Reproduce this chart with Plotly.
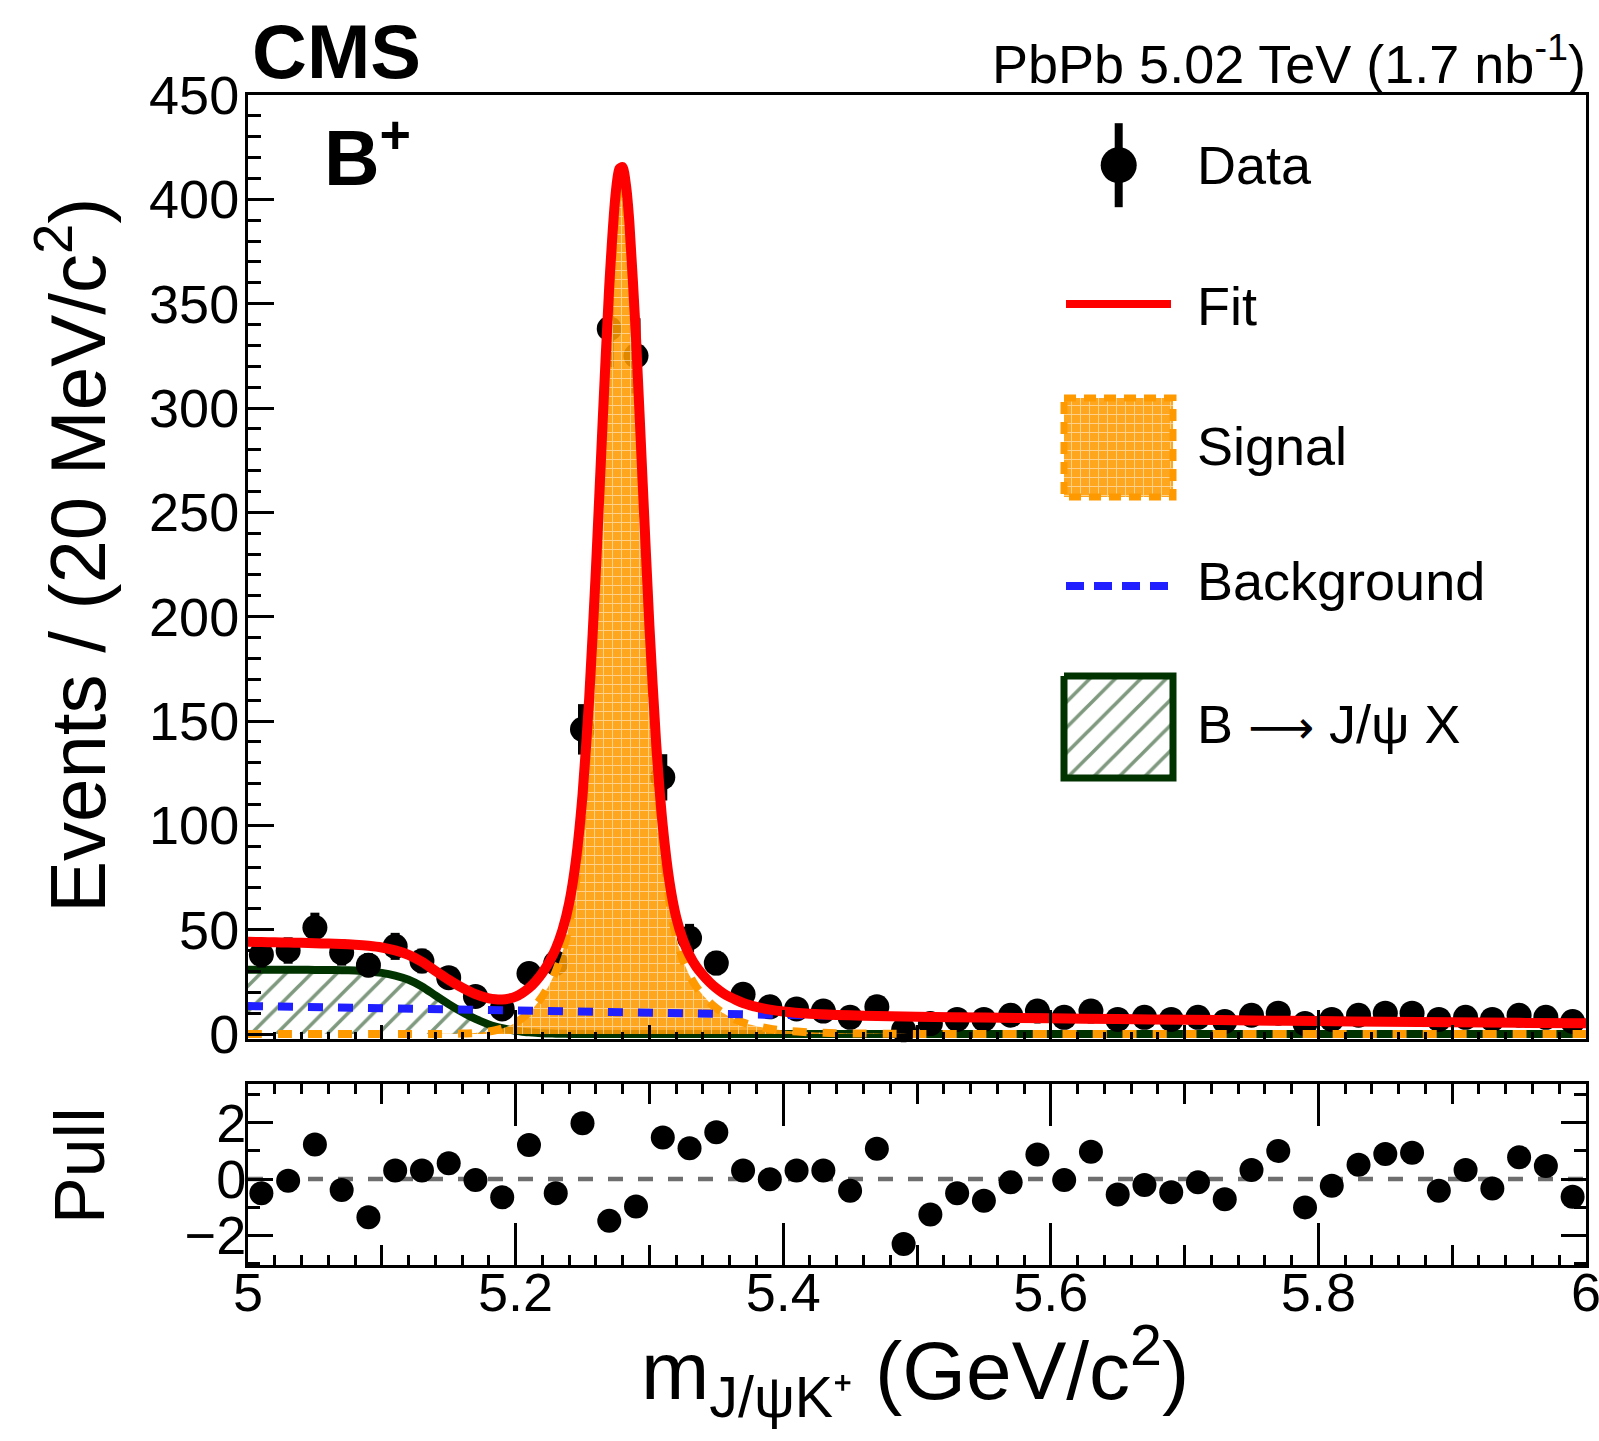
import plotly.graph_objects as go
import numpy as np

# ---------------- data ----------------
bin_centers = [5.01, 5.03, 5.05, 5.07, 5.09, 5.11, 5.13, 5.15, 5.17, 5.19,
               5.21, 5.23, 5.25, 5.27, 5.29, 5.31, 5.33, 5.35, 5.37, 5.39,
               5.41, 5.43, 5.45, 5.47, 5.49, 5.51, 5.53, 5.55, 5.57, 5.59,
               5.61, 5.63, 5.65, 5.67, 5.69, 5.71, 5.73, 5.75, 5.77, 5.79,
               5.81, 5.83, 5.85, 5.87, 5.89, 5.91, 5.93, 5.95, 5.97, 5.99]

counts = [38, 40, 51, 39, 33, 42, 35, 27, 18, 12,
          29, 34, 146, 338, 325, 123, 46, 34, 19, 13,
          12, 11, 8, 13, 2, 5, 7, 7, 9, 11,
          8, 11, 7, 8, 7, 8, 6, 9, 10, 5,
          7, 9, 10, 10, 7, 8, 7, 9, 8, 6]

pulls = [-0.51, -0.06, 1.23, -0.39, -1.36, 0.30, 0.30, 0.56, -0.04, -0.65,
         1.21, -0.51, 1.98, -1.49, -0.98, 1.48, 1.09, 1.66, 0.30, -0.01,
         0.30, 0.30, -0.42, 1.08, -2.31, -1.26, -0.51, -0.77, -0.12, 0.87,
         -0.04, 0.97, -0.55, -0.21, -0.47, -0.12, -0.72, 0.32, 1.00, -1.01,
         -0.24, 0.51, 0.89, 0.93, -0.42, 0.32, -0.34, 0.77, 0.46, -0.63]

# fit-model curves
curve_x = [5.00, 5.01, 5.02, 5.03, 5.04, 5.05, 5.06, 5.07, 5.08, 5.09,
           5.10, 5.11, 5.12, 5.13, 5.14, 5.15, 5.16, 5.17, 5.18,
           5.185, 5.19, 5.195, 5.20, 5.205, 5.21, 5.215, 5.22, 5.225, 5.23,
           5.235, 5.24, 5.245, 5.25, 5.255, 5.26, 5.265, 5.27, 5.275, 5.2775,
           5.28, 5.2825, 5.285, 5.29, 5.295, 5.30, 5.305, 5.31, 5.315, 5.32,
           5.325, 5.33, 5.335, 5.34, 5.345, 5.35, 5.355, 5.36, 5.365, 5.37, 5.375,
           5.38, 5.39, 5.40, 5.42, 5.44, 5.46, 5.48, 5.50, 5.55, 5.60,
           5.65, 5.70, 5.75, 5.80, 5.85, 5.90, 5.95, 6.00]

signal_curve = [0, 0, 0, 0, 0, 0, 0, 0, 0, 0,
                0, 0, 0, 0, 0.02, 0.1, 0.2, 0.5, 1.2,
                1.8, 2.6, 3.8, 5.4, 7.6, 10.3, 13.8, 18.1, 23.4, 30.0,
                39.0, 52.0, 72.3, 103.9, 150.4, 211.8, 282.2, 348.3, 393.8, 404.3,
                405.2, 396.6, 379.1, 323.4, 253.7, 185.7, 129.9, 89.7, 63.1, 46.2,
                35.5, 28.0, 22.6, 18.6, 15.2, 12.4, 10.1, 8.3, 6.8, 5.5, 4.5,
                3.7, 2.5, 1.7, 0.8, 0.4, 0.2, 0.1, 0.0, 0, 0,
                0, 0, 0, 0, 0, 0, 0, 0]

background_curve = [13.40, 13.27, 13.14, 13.02, 12.89, 12.77, 12.65, 12.52, 12.40, 12.29,
                    12.17, 12.05, 11.93, 11.82, 11.71, 11.59, 11.48, 11.37, 11.26,
                    11.21, 11.15, 11.10, 11.05, 10.99, 10.94, 10.89, 10.84, 10.78, 10.73,
                    10.68, 10.63, 10.58, 10.53, 10.48, 10.43, 10.38, 10.33, 10.28, 10.25,
                    10.23, 10.20, 10.18, 10.13, 10.08, 10.03, 9.98, 9.94, 9.89, 9.84,
                    9.79, 9.75, 9.70, 9.65, 9.61, 9.56, 9.51, 9.47, 9.42, 9.38, 9.33,
                    9.29, 9.20, 9.11, 8.94, 8.76, 8.60, 8.43, 8.27, 7.88, 7.51,
                    7.15, 6.82, 6.49, 6.19, 5.90, 5.62, 5.35, 5.10]

bjpsix_curve = [30.8, 30.8, 30.8, 30.8, 30.8, 30.7, 30.7, 30.6, 30.4, 30.0,
                29.3, 28.0, 26.0, 22.8, 18.5, 14.3, 10.5, 7.2, 4.6,
                3.6, 2.8, 2.1, 1.5, 1.1, 0.8, 0.55, 0.35, 0.25, 0.15,
                0.1, 0.05, 0.02, 0, 0, 0, 0, 0, 0, 0,
                0, 0, 0, 0, 0, 0, 0, 0, 0, 0,
                0, 0, 0, 0, 0, 0, 0, 0, 0, 0, 0,
                0, 0, 0, 0, 0, 0, 0, 0, 0, 0,
                0, 0, 0, 0, 0, 0, 0, 0]

fit_curve = [s + b + g for s, b, g in zip(signal_curve, background_curve, bjpsix_curve)]
count_err = list(np.sqrt(np.array(counts, dtype=float)))

x_range = [5.0, 6.0]
x_tick_vals = [5.0, 5.2, 5.4, 5.6, 5.8, 6.0]
x_tick_text = ["5", "5.2", "5.4", "5.6", "5.8", "6"]
y_main_range = [-2.2, 450]
y_pull_range = [-3.06, 3.38]

# ---------------- styling ----------------
W, H = 1599, 1441
ML, MR, MT, MB = 248, 13, 95, 176
PW = W - ML - MR
PH = H - MT - MB
FONT = "Liberation Sans"
RED = "#ff0000"
BLUE = "#1f1fff"
ORANGE = "#ff9900"
DGREEN = "#003300"


def px_x(px):
    return (px - ML) / PW


def px_y(py):
    return (H - MB - py) / PH


# y=0 of the main panel sits at 1034 px, y=450 at 95 px
main_bottom_px = 1034 + (0 - y_main_range[0]) * (1034 - 95) / 450.0
main_dom = [px_y(main_bottom_px), 1.0]
pull_dom = [0.0, px_y(1084)]

hatch = dict(shape="/", fgcolor=DGREEN, bgcolor="rgba(255,255,255,0)", size=18, solidity=0.2)
sigpat = dict(shape="+", fgcolor="white", bgcolor="rgba(255,153,0,0.88)", size=9, solidity=0.2)

fig = go.Figure()

# B -> J/psi X (hatched)
fig.add_trace(go.Scatter(x=curve_x, y=bjpsix_curve, mode="lines", fill="tozeroy",
                         fillpattern=hatch, fillcolor="rgba(0,0,0,0)",
                         line=dict(color=DGREEN, width=8, shape="spline", smoothing=0.6),
                         xaxis="x", yaxis="y", hoverinfo="skip"))
# data
fig.add_trace(go.Scatter(x=bin_centers, y=counts, mode="markers",
                         marker=dict(color="black", size=25, symbol="circle"),
                         error_y=dict(type="data", array=count_err, thickness=9, width=0, color="black"),
                         cliponaxis=False, xaxis="x", yaxis="y"))
# signal
fig.add_trace(go.Scatter(x=curve_x, y=signal_curve, mode="lines", fill="tozeroy",
                         fillpattern=sigpat, fillcolor="rgba(0,0,0,0)",
                         line=dict(color=ORANGE, width=8, dash="14px,16px", shape="spline", smoothing=0.6),
                         xaxis="x", yaxis="y", hoverinfo="skip"))
# background
fig.add_trace(go.Scatter(x=curve_x, y=background_curve, mode="lines",
                         line=dict(color=BLUE, width=8, dash="15px,15px"),
                         xaxis="x", yaxis="y", hoverinfo="skip"))
# total fit
fig.add_trace(go.Scatter(x=curve_x, y=fit_curve, mode="lines",
                         line=dict(color=RED, width=10, shape="spline", smoothing=0.6),
                         xaxis="x", yaxis="y", hoverinfo="skip"))
# pulls
fig.add_trace(go.Scatter(x=bin_centers, y=pulls, mode="markers",
                         marker=dict(color="black", size=24),
                         cliponaxis=False, xaxis="x2", yaxis="y2"))
# dummy traces for overlay tick axes
fig.add_trace(go.Scatter(x=[None], y=[None], xaxis="x3", yaxis="y", hoverinfo="skip"))
fig.add_trace(go.Scatter(x=[None], y=[None], xaxis="x4", yaxis="y2", hoverinfo="skip"))

# ---------------- legend (on a hidden pixel axis) ----------------
LX = dict(xaxis="x5", yaxis="y5", hoverinfo="skip")
fig.add_trace(go.Scatter(x=[1118.7], y=[165.2], mode="markers",
                         marker=dict(color="black", size=36),
                         error_y=dict(type="data", array=[42], thickness=8, width=0, color="black"), **LX))
fig.add_trace(go.Scatter(x=[1066, 1171], y=[304, 304], mode="lines",
                         line=dict(color=RED, width=8), **LX))
fig.add_trace(go.Scatter(x=[1064, 1173, 1173, 1064, 1064], y=[398, 398, 497, 497, 398],
                         mode="lines", fill="toself", fillpattern=sigpat, fillcolor="rgba(0,0,0,0)",
                         line=dict(color=ORANGE, width=7, dash="12px,8px"), **LX))
fig.add_trace(go.Scatter(x=[1066, 1171], y=[586, 586], mode="lines",
                         line=dict(color=BLUE, width=8, dash="18px,10px"), **LX))
fig.add_trace(go.Scatter(x=[1064, 1173, 1173, 1064, 1064], y=[676, 676, 778, 778, 676],
                         mode="lines", fill="toself", fillpattern=hatch, fillcolor="rgba(0,0,0,0)",
                         line=dict(color=DGREEN, width=7), **LX))

tickfont = dict(family=FONT, size=54, color="black")
common = dict(showgrid=False, zeroline=False, ticks="inside", tickcolor="black", tickwidth=3,
              automargin=False)

fig.update_layout(
    width=W, height=H,
    margin=dict(l=ML, r=MR, t=MT, b=MB, autoexpand=False),
    paper_bgcolor="white", plot_bgcolor="rgba(0,0,0,0)",
    showlegend=False,
    font=dict(family=FONT, color="black"),
    xaxis=dict(domain=[0, 1], anchor="y", range=x_range, showticklabels=False,
               dtick=0.1, tick0=5.0, ticklen=14,
               minor=dict(dtick=0.02, ticklen=7, tickwidth=2.5, tickcolor="black", ticks="inside"),
               showline=True, linewidth=3, linecolor="black", mirror=True, **common),
    xaxis3=dict(overlaying="x", anchor="y", side="bottom", range=x_range, showticklabels=False,
                tickmode="array", tickvals=x_tick_vals, ticklen=29, showline=False, **common),
    yaxis=dict(domain=main_dom, anchor="x", range=y_main_range, dtick=50, tick0=0, ticklen=26,
               minor=dict(dtick=10, ticklen=13, tickwidth=2.5, tickcolor="black", ticks="inside"),
               showline=True, linewidth=3, linecolor="black", mirror=True,
               tickfont=tickfont, ticklabelstandoff=-5, **common),
    xaxis2=dict(domain=[0, 1], anchor="y2", range=x_range, showticklabels=False,
                dtick=0.1, tick0=5.0, ticklen=20,
                minor=dict(dtick=0.02, ticklen=10, tickwidth=2.5, tickcolor="black", ticks="inside"),
                showline=True, linewidth=3, linecolor="black", mirror="ticks", **common),
    xaxis4=dict(overlaying="x2", anchor="y2", side="bottom", range=x_range, showticklabels=True,
                tickmode="array", tickvals=x_tick_vals, ticktext=x_tick_text,
                ticklen=42, showline=False, mirror="ticks", ticklabeloverflow="allow",
                tickfont=tickfont, ticklabelstandoff=-9, **common),
    yaxis2=dict(domain=pull_dom, anchor="x2", range=y_pull_range, dtick=2, tick0=0, ticklen=25,
                minor=dict(dtick=1, ticklen=12, tickwidth=2.5, tickcolor="black", ticks="inside"),
                showline=True, linewidth=3, linecolor="black", mirror="ticks",
                tickfont=tickfont, ticklabelstandoff=-12, **common),
    xaxis5=dict(domain=[0, 1], anchor="y5", range=[ML, ML + PW], visible=False, automargin=False),
    yaxis5=dict(domain=[0, 1], anchor="x5", range=[H - MB, MT], visible=False, automargin=False),
)

# pull reference line at 0
fig.add_shape(type="line", xref="x2 domain", x0=0, x1=1, yref="y2", y0=0, y1=0,
              line=dict(color="#6e6e6e", width=4.5, dash="15px,15px"), layer="below")

ann = []


def text(t, px, py, size, xanchor="left", angle=0, yanchor="middle"):
    ann.append(dict(text=t, x=px_x(px), y=px_y(py), xref="paper", yref="paper",
                    xanchor=xanchor, yanchor=yanchor, showarrow=False, textangle=angle,
                    font=dict(family=FONT, size=size, color="black")))


text("<b>CMS</b>", 250, 52, 76)
text("PbPb 5.02 TeV (1.7 nb<sup>-1</sup>)", 1588, 60, 54, xanchor="right")
text("<b>B<sup>+</sup></b>", 322, 152, 77)
text("Events / (20 MeV/c<sup>2</sup>)", 72, 556, 78, xanchor="center", angle=-90)
text("Pull", 80, 1166, 70, xanchor="center", angle=-90)
text("m<sub>J/ψK⁺</sub> (GeV/c<sup>2</sup>)", 915, 1371, 82, xanchor="center")
text("Data", 1195, 165, 54)
text("Fit", 1195, 306, 54)
text("Signal", 1195, 446, 54)
text("Background", 1195, 581, 54)
text("B <span style=\"font-family:DejaVu Sans;font-size:46px\">⟶</span> J/ψ X", 1195, 724, 54)
fig.update_layout(annotations=ann)

fig.write_html("out.html", include_plotlyjs=True, full_html=True,
               config={"displayModeBar": False, "responsive": False})
